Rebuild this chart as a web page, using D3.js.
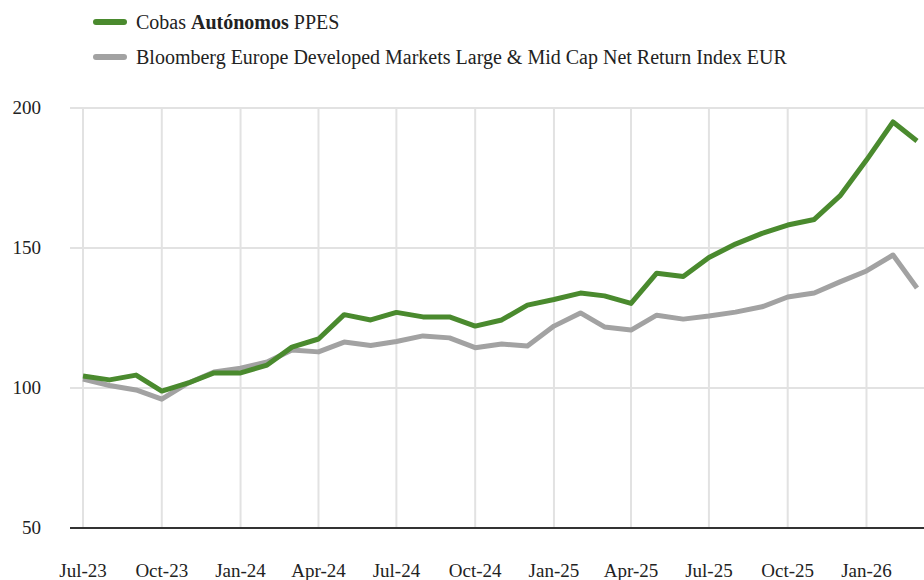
<!DOCTYPE html>
<html><head><meta charset="utf-8">
<script src="https://cdn.jsdelivr.net/npm/d3@7"></script>
<style>body{margin:0;background:#fff}svg{display:block}.t{font-family:"Liberation Serif";fill:#222}</style>
</head><body>
<svg id="c" width="924" height="580"></svg>
<script>
const months = ["2023-07","2023-08","2023-09","2023-10","2023-11","2023-12","2024-01","2024-02","2024-03","2024-04","2024-05","2024-06","2024-07","2024-08","2024-09","2024-10","2024-11","2024-12","2025-01","2025-02","2025-03","2025-04","2025-05","2025-06","2025-07","2025-08","2025-09","2025-10","2025-11","2025-12","2026-01","2026-02","2026-03"];
const cobas = [104.3,102.9,104.6,98.9,101.8,105.4,105.4,108.2,114.6,117.5,126.2,124.3,127.0,125.4,125.4,122.1,124.3,129.6,131.6,133.9,132.9,130.2,141.0,139.8,146.6,151.4,155.2,158.2,160.2,168.6,181.4,195.0,188.2];
const bloomberg = [103.2,100.9,99.3,96.0,101.8,105.7,107.1,109.3,113.6,112.9,116.4,115.2,116.6,118.6,117.9,114.4,115.7,115.0,122.1,126.8,121.8,120.7,126.0,124.6,125.7,127.1,129.0,132.5,133.9,137.9,141.8,147.5,135.7];
const yTicks = [50,100,150,200];
const xTickLabels = ["Jul-23","Oct-23","Jan-24","Apr-24","Jul-24","Oct-24","Jan-25","Apr-25","Jul-25","Oct-25","Jan-26"];
const seriesNames = ["Cobas ","Autónomos"," PPES"];
const benchName = "Bloomberg Europe Developed Markets Large & Mid Cap Net Return Index EUR";
const colors = {cobas:"#4a8a2e", bench:"#a2a2a2"};

const parse = d3.timeParse("%Y-%m");
const dates = months.map(parse);
const svg = d3.select("#c");
const x = d3.scaleTime().domain([dates[0], dates[dates.length-1]]).range([83,917]);
const y = d3.scaleLinear().domain([50,200]).range([528,108]);

svg.append("g").selectAll("line").data(yTicks.filter(v=>v>50)).join("line")
  .attr("x1",70).attr("x2",924).attr("y1",d=>y(d)).attr("y2",d=>y(d))
  .attr("stroke","#e2e2e2").attr("stroke-width",2);
const tickDates = xTickLabels.map(s=>d3.timeParse("%b-%y")(s));
svg.append("g").selectAll("line").data(tickDates).join("line")
  .attr("x1",d=>x(d)).attr("x2",d=>x(d)).attr("y1",108).attr("y2",528)
  .attr("stroke","#e2e2e2").attr("stroke-width",2);
svg.append("line").attr("x1",70).attr("x2",924).attr("y1",y(50)).attr("y2",y(50))
  .attr("stroke","#333").attr("stroke-width",2);
svg.append("g").selectAll("text").data(yTicks).join("text").attr("class","t")
  .attr("x",41).attr("y",d=>y(d)+6).attr("text-anchor","end").attr("font-size",19).text(d=>d);
svg.append("g").selectAll("text").data(tickDates).join("text").attr("class","t")
  .attr("x",d=>x(d)).attr("y",577).attr("text-anchor","middle").attr("font-size",19)
  .text((d,i)=>xTickLabels[i]);

const line = d3.line().x((d,i)=>x(dates[i])).y(d=>y(d));
svg.append("path").datum(bloomberg).attr("d",line).attr("fill","none")
  .attr("stroke",colors.bench).attr("stroke-width",5).attr("stroke-linejoin","round");
svg.append("path").datum(cobas).attr("d",line).attr("fill","none")
  .attr("stroke",colors.cobas).attr("stroke-width",5).attr("stroke-linejoin","round");

const lg = svg.append("g");
lg.append("line").attr("x1",96).attr("x2",124).attr("y1",22).attr("y2",22)
  .attr("stroke",colors.cobas).attr("stroke-width",6).attr("stroke-linecap","round");
const t1 = lg.append("text").attr("class","t").attr("x",136).attr("y",29).attr("font-size",20);
seriesNames.forEach((s,i)=>t1.append("tspan").attr("font-weight",i===1?"bold":"normal").text(s));
lg.append("line").attr("x1",96).attr("x2",124).attr("y1",57).attr("y2",57)
  .attr("stroke",colors.bench).attr("stroke-width",6).attr("stroke-linecap","round");
lg.append("text").attr("class","t").attr("x",136).attr("y",64).attr("font-size",20).text(benchName);
</script>
</body></html>
